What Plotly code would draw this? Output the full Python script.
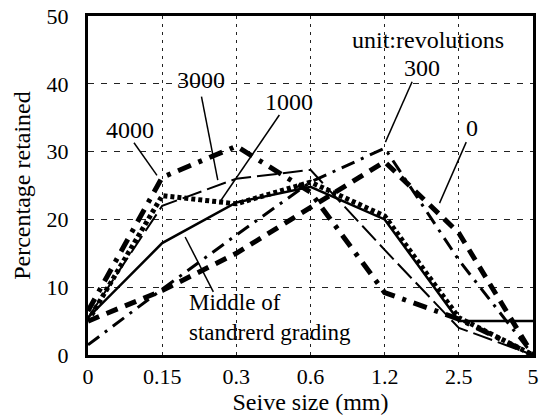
import plotly.graph_objects as go

# ---- data ----
sizes = ["0", "0.15", "0.3", "0.6", "1.2", "2.5", "5"]
rev_0 = [5, 9.5, 15, 21.7, 28.5, 18, 0]
rev_300 = [1.5, 9.7, 17.7, 25.5, 30.5, 14, 0]
rev_1000 = [5, 23.5, 22.3, 25.5, 20.5, 5.5, 0]
rev_3000 = [5.5, 22, 26, 27.3, 15.5, 4, 0]
rev_4000 = [6.5, 26.2, 30.8, 24, 9.2, 5.3, 0]
middle = [5.5, 16.5, 22.5, 24.8, 20, 5, 5]
y_ticks = [0, 10, 20, 30, 40, 50]

xs = list(range(len(sizes)))
FONT = "Liberation Serif, DejaVu Serif, serif"

series = [
    ("0", rev_0, 5, "12px,8px"),
    ("300", rev_300, 3, "14px,7px,3px,7px"),
    ("1000", rev_1000, 5, "4px,3px"),
    ("3000", rev_3000, 2, "20px,6px"),
    ("4000", rev_4000, 5, "14px,8px,4px,8px"),
    ("Middle of standrerd grading", middle, 2.5, "solid"),
]

fig = go.Figure()
for name, vals, w, dash in series:
    fig.add_trace(go.Scatter(x=xs, y=vals, mode="lines", name=name,
                             line=dict(color="black", width=w, dash=dash),
                             showlegend=False))

# label texts (position in axis units) and their leader lines
labels = [
    ("4000", 0.56, 33.2, (0.62, 31.3, 0.93, 26.5)),
    ("3000", 1.53, 40.6, (1.53, 38.1, 1.75, 25.8)),
    ("1000", 2.71, 37.3, (2.58, 35.4, 1.78, 22.6)),
    ("300", 4.50, 42.3, (4.37, 40.3, 4.01, 31.4)),
    ("0", 5.18, 33.5, (5.10, 31.4, 4.74, 22.4)),
]
for txt, tx, ty, (x0, y0, x1, y1) in labels:
    fig.add_annotation(x=tx, y=ty, text=txt, showarrow=False,
                       font=dict(family=FONT, size=24, color="black"))
    fig.add_shape(type="line", x0=x0, y0=y0, x1=x1, y1=y1,
                  line=dict(color="black", width=1.5))

fig.add_annotation(x=4.58, y=46.5, text="unit:revolutions", showarrow=False,
                   font=dict(family=FONT, size=24, color="black"))
fig.add_annotation(x=1.33, y=5.5, text="Middle of<br>standrerd grading",
                   showarrow=False, xanchor="left", align="left",
                   font=dict(family=FONT, size=23, color="black"))
fig.add_shape(type="line", x0=1.31, y0=17.4, x1=1.69, y1=9.3,
              line=dict(color="black", width=1.5))

fig.update_layout(
    width=542, height=419,
    margin=dict(l=88, r=3, t=16, b=64),
    paper_bgcolor="white", plot_bgcolor="white",
    font=dict(family=FONT, size=22, color="black"),
    xaxis=dict(range=[0, 6], tickvals=xs, ticktext=sizes,
               showline=True, mirror=True, linecolor="black", linewidth=3,
               showgrid=True, gridcolor="#222", gridwidth=1, griddash="3px,5px",
               zeroline=False, ticks="", ticklabelstandoff=0,
               ticklabeloverflow="allow",
               title=dict(text="Seive size (mm)", standoff=4,
                          font=dict(family=FONT, size=24))),
    yaxis=dict(range=[0, 50], tickvals=y_ticks,
               showline=True, mirror=True, linecolor="black", linewidth=3,
               showgrid=True, gridcolor="#222", gridwidth=1, griddash="6px,7px",
               zeroline=False, ticks="", ticklabelstandoff=12,
               title=dict(text="Percentage retained", standoff=10,
                          font=dict(family=FONT, size=24))),
)

fig.write_html("out.html")
